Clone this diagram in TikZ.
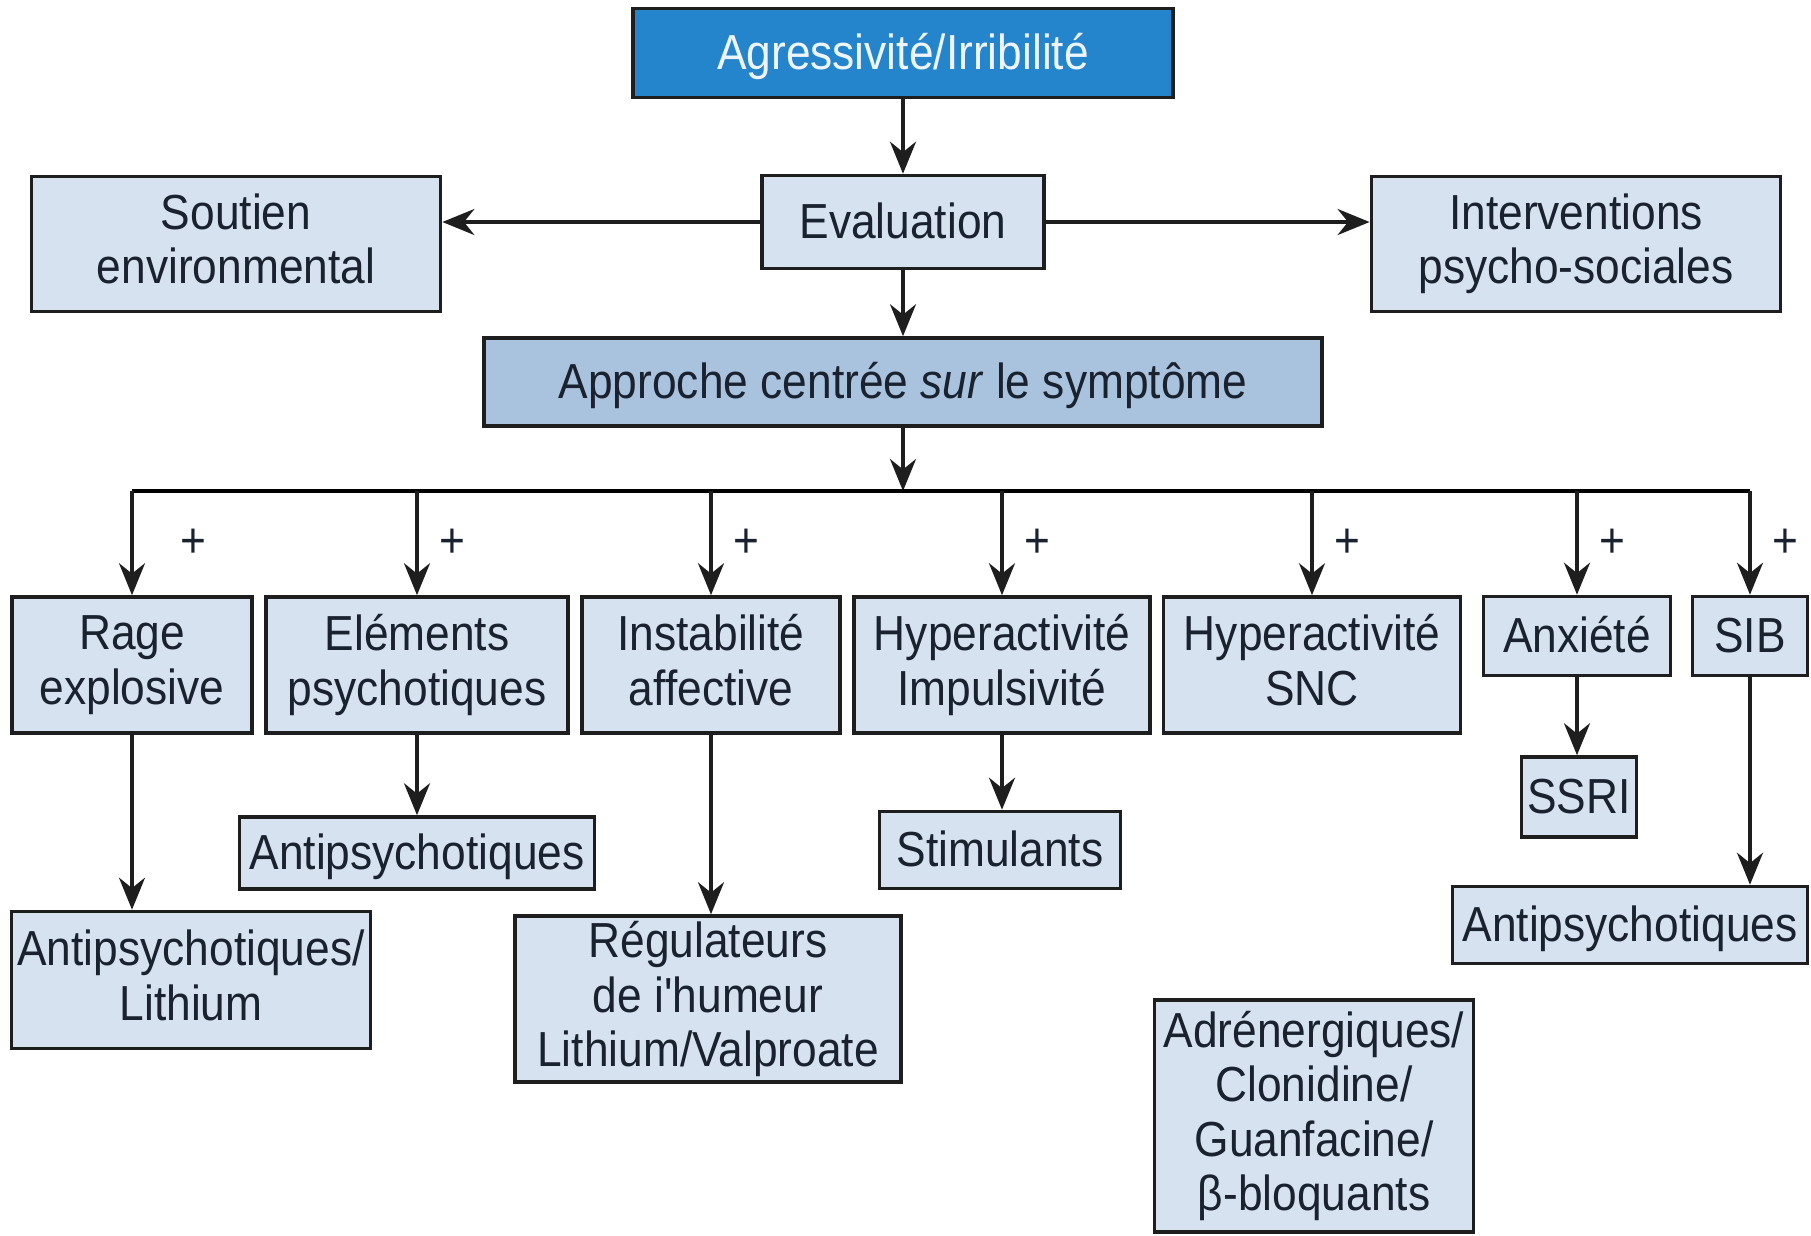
\documentclass[tikz,border=0pt]{standalone}
\usepackage{fontspec}
\setmainfont{Liberation Sans}[FakeStretch=0.9, Ligatures=TeXOff]
\usetikzlibrary{arrows.meta, positioning, calc}
\definecolor{cdeep}{HTML}{2484CC}
\definecolor{cpale}{HTML}{D6E2EF}
\definecolor{cmid}{HTML}{A9C2DE}
\definecolor{cline}{HTML}{1E1E1E}
\definecolor{cink}{HTML}{1A2230}
\tikzset{
  every picture/.style={line width=1pt},
  box/.style={draw=cline, fill=#1, align=center, inner sep=0pt, text=cink, font=\fontsize{14}{15.5}\selectfont,
    execute at begin node=\vphantom{É}, execute at end node=\vphantom{g}},
  box/.default=cpale,
  arrow/.style={-{Stealth[length=3.2mm, width=2.6mm]}, draw=cline},
  plus/.style={right, inner sep=6pt, text=cink, font=\fontsize{14}{15.5}\selectfont},
}

\begin{document}
\begin{tikzpicture}[x=0.01cm, y=-0.01cm]
  \useasboundingbox (0,0) rectangle (1811,1235);
  \node[box=cdeep, text=white!92!cdeep, minimum width=5.40cm, minimum height=0.89cm] (agr) at (903,53) {Agressivité/Irribilité};
  \node[box, minimum width=2.82cm, minimum height=0.93cm] (eval) at (903,222) {Evaluation};
  \node[box, minimum width=4.09cm, minimum height=1.35cm] (soutien) at (236,244) {Soutien\\environmental};
  \node[box, minimum width=4.09cm, minimum height=1.35cm] (interv) at (1576,244) {Interventions\\psycho-sociales};
  \node[box=cmid, minimum width=8.38cm, minimum height=0.88cm] (appr) at (903,382) {Approche centrée \textit{sur} le symptôme};
  \coordinate (bus) at (903,491);
  \node[box, minimum width=2.40cm, minimum height=1.36cm] (rage) at (132,665) {Rage\\explosive};
  \node[box, minimum width=3.02cm, minimum height=1.36cm] (elem) at (417,665) {Eléments\\psychotiques};
  \node[box, minimum width=2.58cm, minimum height=1.36cm] (instab) at (711,665) {Instabilité\\affective};
  \node[box, minimum width=2.96cm, minimum height=1.36cm] (hyper) at (1002,665) {Hyperactivité\\Impulsivité};
  \node[box, minimum width=2.97cm, minimum height=1.36cm] (snc) at (1312,665) {Hyperactivité\\SNC};
  \node[box, minimum width=1.87cm, minimum height=0.79cm] (anx) at (1577,636) {Anxiété};
  \node[box, minimum width=1.15cm, minimum height=0.79cm] (sib) at (1750,636) {SIB};
  \node[box, minimum width=3.59cm, minimum height=1.37cm] (antili) at (191,980) {Antipsychotiques/\\Lithium};
  \node[box, minimum width=3.55cm, minimum height=0.72cm] (antipa) at (417,853) {Antipsychotiques};
  \node[box, minimum width=3.86cm, minimum height=1.66cm] (regul) at (708,999) {Régulateurs\\de i'humeur\\Lithium/Valproate};
  \node[box, minimum width=2.41cm, minimum height=0.77cm] (stim) at (1000,850) {Stimulants};
  \node[box, minimum width=3.19cm, minimum height=2.32cm] (adren) at (1314,1116) {Adrénergiques/\\Clonidine/\\Guanfacine/\\β-bloquants};
  \node[box, minimum width=1.15cm, minimum height=0.80cm] (ssri) at (1579,797) {SSRI};
  \node[box, minimum width=3.55cm, minimum height=0.77cm] (antipb) at (1630,925) {Antipsychotiques};
  \draw[arrow] (agr.south) -- (agr.south |- eval.north);
  \draw[arrow] (eval.west) -- (eval.west -| soutien.east);
  \draw[arrow] (eval.east) -- (eval.east -| interv.west);
  \draw[arrow] (eval.south) -- (eval.south |- appr.north);
  \draw[arrow] (appr.south) -- (bus);
  \draw (rage.north |- bus) -- (sib.north |- bus);
  \draw[arrow] (rage.north |- bus) -- node[plus, xshift=0.26cm]{+} (rage.north);
  \foreach \n in {elem, instab, hyper, snc, anx, sib}
    \draw[arrow] (\n.north |- bus) -- node[plus]{+} (\n.north);
  \draw[arrow] (rage.south) -- (rage.south |- antili.north);
  \draw[arrow] (elem.south) -- (elem.south |- antipa.north);
  \draw[arrow] (instab.south) -- (instab.south |- regul.north);
  \draw[arrow] (hyper.south) -- (hyper.south |- stim.north);
  \draw[arrow] (anx.south) -- (anx.south |- ssri.north);
  \draw[arrow] (sib.south) -- (sib.south |- antipb.north);
\end{tikzpicture}
\end{document}
